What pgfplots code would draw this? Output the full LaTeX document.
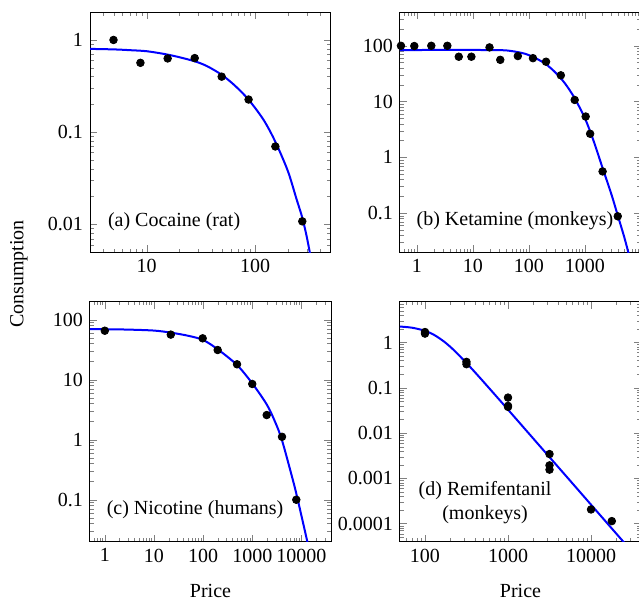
\documentclass[border=0pt]{standalone}
\usepackage{fontspec}
\setmainfont{Liberation Serif}
\usepackage{pgfplots}
\pgfplotsset{compat=1.18}
\pgfplotsset{
  drugpanel/.style={
    scale only axis, width=120.5pt, height=120pt,
    axis line style={line width=0.5pt},
    major tick length=3.5pt, minor tick length=1.8pt,
    tick align=inside, tick pos=both,
    clip mode=individual,
    /pgf/number format/assume math mode=true,
    tick label style={font=\normalsize},
    anchor=south west,
  },
  drugpts/.style={only marks, mark=*, mark size=1.9pt, mark options={fill=black, draw=black}},
  drugfit/.style={no marks, smooth, color={rgb,255:red,0;green,0;blue,255}, line width=1pt},
}
\begin{document}
\begin{tikzpicture}
\useasboundingbox (0,0) rectangle (319.5pt,300pt);
% (a)
\begin{loglogaxis}[drugpanel, at={(45pt,173.9pt)},
  xmin=3, xmax=500, ymin=0.005, ymax=2,
  xtick={10,100}, xticklabels={10,100},
  minor xtick={4,5,6,7,8,9,20,30,40,50,60,70,80,90,200,300,400},
  ytick={0.01,0.1,1}, yticklabels={0.01,0.1,1},
  minor ytick={0.006,0.007,0.008,0.009,0.02,0.03,0.04,0.05,0.06,0.07,0.08,0.09,0.2,0.3,0.4,0.5,0.6,0.7,0.8,0.9}]
\addplot[drugfit] coordinates {(3,0.80) (5,0.79) (7,0.775) (10,0.755) (15,0.70) (20,0.65) (28,0.585) (36,0.52) (49,0.42) (65,0.32) (87,0.225) (120,0.135) (154,0.078) (200,0.038) (240,0.019) (272,0.0118) (300,0.0072) (330,0.004)};
\addplot[drugpts] coordinates {(4.94,1.0) (8.75,0.565) (15.6,0.63) (27.7,0.636) (49.1,0.40) (86.9,0.226) (153.5,0.07) (271.8,0.0108)};
\node at (rel axis cs:0.349,0.128) {(a) Cocaine (rat)};
\end{loglogaxis}
% (b)
\begin{loglogaxis}[drugpanel, at={(200pt,173.9pt)},
  xmin=0.5, xmax=10000, ymin=0.02, ymax=400,
  xtick={1,10,100,1000}, xticklabels={1,10,100,1000},
  minor xtick={0.6,0.7,0.8,0.9,2,3,4,5,6,7,8,9,20,30,40,50,60,70,80,90,200,300,400,500,600,700,800,900,2000,3000,4000,5000,6000,7000,8000,9000},
  ytick={0.1,1,10,100}, yticklabels={0.1,1,10,100},
  minor ytick={0.03,0.04,0.05,0.06,0.07,0.08,0.09,0.2,0.3,0.4,0.5,0.6,0.7,0.8,0.9,2,3,4,5,6,7,8,9,20,30,40,50,60,70,80,90,200,300}]
\addplot[drugfit] coordinates {(0.5,84) (18,84) (40,82.5) (72.6,75) (100,68) (145,57) (200,47) (290,34) (438,21.3) (655,11.5) (1000,5.0) (1400,2.08) (2065,0.645) (3000,0.21) (3850,0.091) (5000,0.038) (5900,0.0204) (6500,0.014)};
\addplot[drugpts] coordinates {(0.52,100) (0.9,99) (1.81,100) (3.5,100) (5.6,63.7) (9.4,63.7) (19.8,93.6) (30.8,56) (63.4,65.5) (118,60) (202,51.8) (371,29.6) (656,10.7) (1030,5.4) (1237,2.65) (2065,0.56) (3850,0.088)};
\node at (rel axis cs:0.477,0.132) {(b) Ketamine (monkeys)};
\end{loglogaxis}
% (c)
\begin{loglogaxis}[drugpanel, at={(45pt,29.15pt)},
  xmin=0.5, xmax=40000, ymin=0.02, ymax=200,
  xtick={1,10,100,1000,10000}, xticklabels={1,10,100,1000,10000},
  minor xtick={0.6,0.7,0.8,0.9,2,3,4,5,6,7,8,9,20,30,40,50,60,70,80,90,200,300,400,500,600,700,800,900,2000,3000,4000,5000,6000,7000,8000,9000,20000,30000},
  ytick={0.1,1,10,100}, yticklabels={0.1,1,10,100},
  minor ytick={0.03,0.04,0.05,0.06,0.07,0.08,0.09,0.2,0.3,0.4,0.5,0.6,0.7,0.8,0.9,2,3,4,5,6,7,8,9,20,30,40,50,60,70,80,90}]
\addplot[drugfit] coordinates {(0.5,70) (1,69.5) (3,68.5) (10,66) (22,61) (50,54) (100,46) (200,32) (490,17.6) (1000,8.7) (2000,3.8) (3000,1.88) (4000,1.0) (6000,0.30) (8000,0.12) (13200,0.02) (15000,0.012)};
\addplot[drugpts] coordinates {(1,65.6) (22,56.5) (98,49) (198,31.3) (490,18.1) (1000,8.5) (1968,2.58) (4030,1.12) (7870,0.10)};
\node at (rel axis cs:0.436,0.132) {(c) Nicotine (humans)};
\end{loglogaxis}
% (d)
\begin{loglogaxis}[drugpanel, at={(200pt,29.15pt)},
  xmin=50, xmax=40000, ymin=0.00004, ymax=8,
  xtick={100,1000,10000}, xticklabels={100,1000,10000},
  minor xtick={60,70,80,90,200,300,400,500,600,700,800,900,2000,3000,4000,5000,6000,7000,8000,9000,20000,30000},
  ytick={0.0001,0.001,0.01,0.1,1}, yticklabels={0.0001,0.001,0.01,0.1,1},
  minor ytick={0.00005,0.00006,0.00007,0.00008,0.00009,0.0002,0.0003,0.0004,0.0005,0.0006,0.0007,0.0008,0.0009,0.002,0.003,0.004,0.005,0.006,0.007,0.008,0.009,0.02,0.03,0.04,0.05,0.06,0.07,0.08,0.09,0.2,0.3,0.4,0.5,0.6,0.7,0.8,0.9,2,3,4,5,6,7}]
\addplot[drugfit] coordinates {(50,2.26) (70,2.13) (100,1.82) (130,1.463) (170,1.049) (220,0.696) (316,0.354) (450,0.174) (700,0.0697) (1000,0.0331) (2000,0.00772) (3162,0.00295) (5000,0.00113) (10000,0.000263) (20000,0.0000613) (30000,0.0000262)};
\addplot[drugpts] coordinates {(100,1.71) (100,1.58) (316,0.375) (316,0.333) (1000,0.061) (1000,0.040) (1000,0.038) (3162,0.00345) (3162,0.00194) (3162,0.00156) (10000,0.000206) (17800,0.000114)};
\node[align=center] at (rel axis cs:0.353,0.163) {(d) Remifentanil\\(monkeys)};
\end{loglogaxis}
\node[rotate=90] at (9.5pt,163pt) {Consumption};
\node at (105.25pt,4.5pt) {Price};
\node at (260.25pt,4.5pt) {Price};
\end{tikzpicture}
\end{document}
